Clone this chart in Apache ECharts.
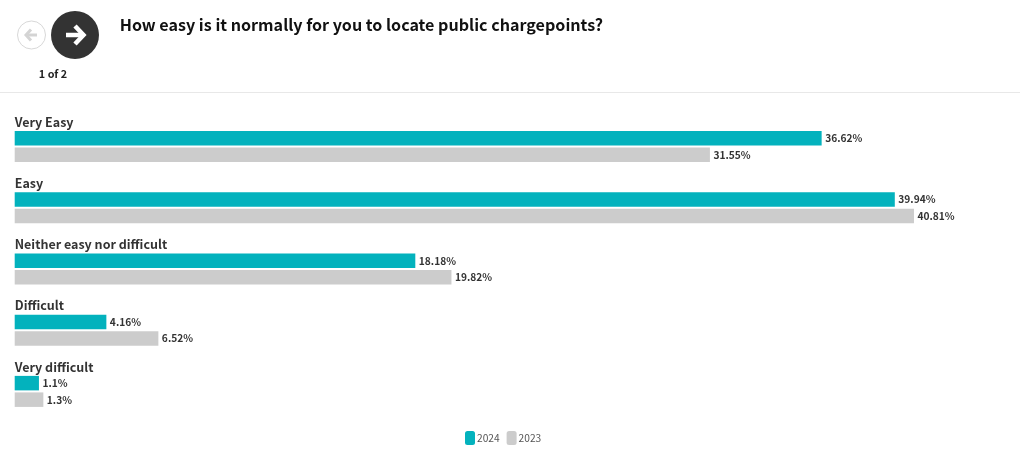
<!DOCTYPE html>
<html><head><meta charset="utf-8">
<style>html,body{margin:0;padding:0;background:#fff}#c{width:1020px;height:455px}</style>
<script src="https://cdn.jsdelivr.net/npm/echarts@6/dist/echarts.min.js"></script>
</head><body><div id="c"></div>
<script>
const categories = ['Very Easy','Easy','Neither easy nor difficult','Difficult','Very difficult'];
const values2024 = [36.62,39.94,18.18,4.16,1.1];
const values2023 = [31.55,40.81,19.82,6.52,1.3];
const FONT = '"Noto Sans CJK SC","Noto Sans",sans-serif';
const chart = echarts.init(document.getElementById('c'),null,{renderer:'canvas'});
const label = {show:true,position:'right',distance:3.5,formatter:'{c}%',fontFamily:FONT,fontSize:10.2,fontWeight:'bold',color:'#333'};
chart.setOption({
  animation:false,
  backgroundColor:'#fff',
  grid:{left:14.7,top:116,width:991.6,height:306},
  xAxis:{type:'value',min:0,max:45,show:false},
  yAxis:{type:'category',inverse:true,data:categories,
    axisLine:{show:false},axisTick:{show:false},splitLine:{show:false},
    axisLabel:{inside:true,margin:0,align:'left',verticalAlign:'middle',
      formatter:'{a|{value}}',
      rich:{a:{fontFamily:FONT,fontSize:12.5,fontWeight:'bold',color:'#333',padding:[0,0,49,0]}}},
    z:5},
  legend:{bottom:5,left:460,itemWidth:10,itemHeight:14,itemGap:7,icon:'roundRect',
    textStyle:{fontFamily:FONT,fontSize:10.2,color:'#555',padding:[0,0,0,-3]},
    data:['2024','2023']},
  series:[
    {name:'2024',type:'bar',data:values2024,barWidth:14.5,barGap:'14%',itemStyle:{color:'#03b2bd'},label},
    {name:'2023',type:'bar',data:values2023,barWidth:14.5,barGap:'14%',itemStyle:{color:'#cccccc'},label}
  ],
  graphic:[
    {type:'rect',shape:{x:0,y:92,width:1020,height:1},style:{fill:'#e8e8e8'},silent:true},
    {type:'circle',shape:{cx:31.5,cy:35,r:14},style:{fill:'#fff',stroke:'#d8d8d8',lineWidth:1}},
    {type:'polyline',shape:{points:[[31,29.5],[26,35],[31,40.5]]},style:{stroke:'#d4d4d4',lineWidth:3,fill:null}},
    {type:'line',shape:{x1:27,y1:35,x2:37,y2:35},style:{stroke:'#d4d4d4',lineWidth:3}},
    {type:'circle',shape:{cx:75,cy:35,r:24},style:{fill:'#333333'}},
    {type:'polyline',shape:{points:[[75,26],[83.5,35],[75,44]]},style:{stroke:'#fff',lineWidth:4.5,fill:null}},
    {type:'line',shape:{x1:66,y1:35,x2:82,y2:35},style:{stroke:'#fff',lineWidth:4.5}},
    {type:'text',style:{x:53,y:74,text:'1 of 2',align:'center',verticalAlign:'middle',font:'bold 10.8px '+FONT,fill:'#222'}},
    {type:'text',style:{x:119.7,y:25,text:'How easy is it normally for you to locate public chargepoints?',align:'left',verticalAlign:'middle',font:'bold 16.1px '+FONT,fill:'#111'}}
  ]
});
</script></body></html>
